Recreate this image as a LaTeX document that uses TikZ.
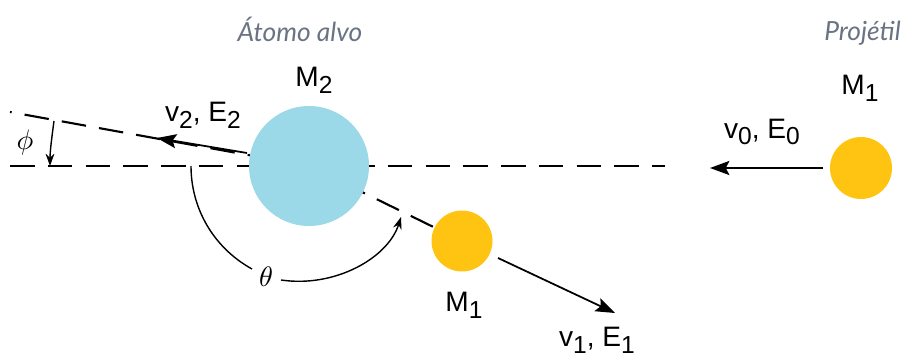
\documentclass[tikz,border=0pt]{standalone}
\usepackage{fontspec}
\setmainfont{Liberation Sans}
\newfontfamily\latofont{Lato}
\usetikzlibrary{arrows.meta}
\definecolor{cyanball}{RGB}{155,216,232}
\definecolor{goldball}{RGB}{255,196,18}
\definecolor{captiongray}{RGB}{105,115,130}
\newcommand{\lowsub}[1]{\raisebox{-0.45ex}{\fontsize{14}{14}\selectfont #1}}
\begin{document}
\begin{tikzpicture}[x=0.02cm,y=-0.02cm,
  dashline/.style={line width=1.2pt, dash pattern=on 14pt off 7.5pt},
  vec/.style={line width=1pt, -{Stealth[length=11pt,width=8pt,inset=2pt]}},
  angarrow/.style={line width=0.8pt, -{Stealth[length=7pt,width=5pt]}},
  ball/.style={circle, inner sep=0pt, draw=none},
  lbl/.style={font=\fontsize{16}{18}\selectfont, inner sep=0pt},
  glbl/.style={inner sep=0pt},
  captxt/.style={font=\latofont\itshape\fontsize{15}{18}\selectfont, text=captiongray, inner sep=0pt}]
\useasboundingbox (0,0) rectangle (902,361);

% reference points
\coordinate (c) at (309,166);
\coordinate (hl) at (10,166);
\coordinate (hr) at (665,166);
\coordinate (ul) at (10,112);
\coordinate (sc) at (462,241);

% dashed reference lines
\draw[dashline] (hl) -- (hr);
\draw[dashline] (c) -- (ul);
\draw[dashline] (c) -- (sc);

% balls
\node[ball, fill=cyanball, minimum size=2.4cm] (big) at (c) {};
\node[ball, fill=goldball, minimum size=1.22cm] (small) at (sc) {};
\node[ball, fill=goldball, minimum size=1.24cm] (proj) at (861,168) {};

% velocity arrows
\coordinate (v0s) at (823,168);
\coordinate (v0e) at (710,168);
\draw[vec] (v0s) -- (v0e);
\coordinate (v1s) at (498,258);
\coordinate (v1e) at (615,313);
\draw[vec] (v1s) -- (v1e);
\coordinate (v2s) at (247,153);
\coordinate (v2e) at (157,138);
\draw[vec] (v2s) -- (v2e);

% phi angle
\coordinate (phis) at (54,121);
\coordinate (phie) at (50,166);
\draw[angarrow] (phis) .. controls (52,136) and (50,151) .. (phie);
\node[glbl] (phi) at (25,142) {\scalebox{1.6}{$\phi$}};

% theta angle
\coordinate (ths) at (191,166);
\coordinate (thm) at (252,269);
\coordinate (thr) at (281,280);
\coordinate (the) at (401,217);
\draw[line width=0.8pt] (ths) .. controls (191,209) and (214,248) .. (thm);
\draw[angarrow] (thr) .. controls (335,288) and (388,258) .. (the);
\node[glbl] (theta) at (266,277) {\scalebox{1.6}{$\theta$}};

% labels
\node[lbl] (m2) at (314,80) {M\lowsub{2}};
\node[lbl] (v2l) at (203,115) {v\lowsub{2}, E\lowsub{2}};
\node[lbl] (m1a) at (464,305) {M\lowsub{1}};
\node[lbl] (v1l) at (597,340) {v\lowsub{1}, E\lowsub{1}};
\node[lbl] (m1b) at (860,88) {M\lowsub{1}};
\node[lbl] (v0l) at (762,132) {v\lowsub{0}, E\lowsub{0}};
\node[captxt] (alvo) at (300,29) {Átomo alvo};
\node[captxt, anchor=east] (projt) at (901,33) {Projétil};
\end{tikzpicture}
\end{document}
